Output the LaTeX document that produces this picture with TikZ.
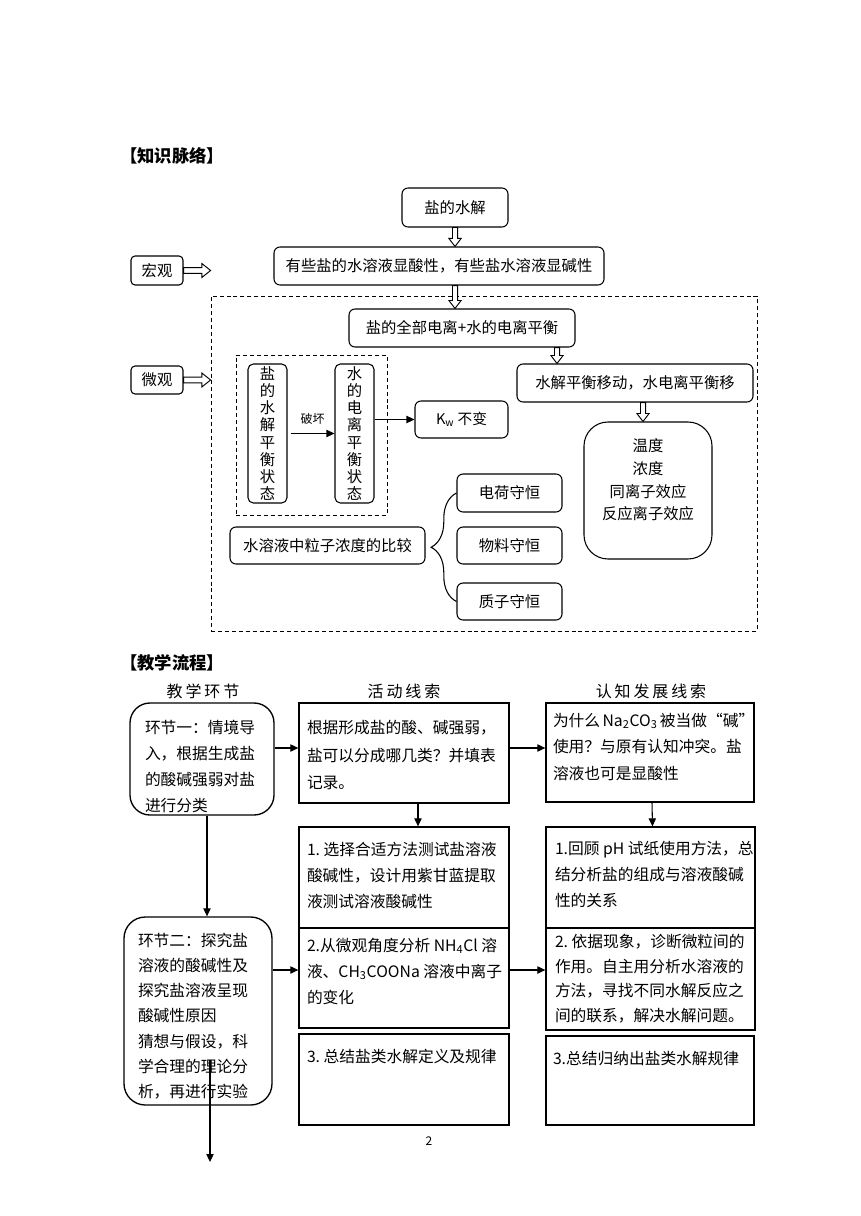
\documentclass[tikz,border=0pt]{standalone}
\usepackage{fontspec}
\setmainfont{Noto Sans CJK SC}
\usetikzlibrary{arrows.meta,calc,decorations.pathreplacing}
\newcommand{\pxu}{*0.75pt}
% width, height, top pad, left pad (px), baselineskip (pt), text
\newcommand{\fbx}[6]{\parbox[c][\dimexpr#2pt*3/4\relax][t]{\dimexpr#1pt*3/4\relax}{\vspace*{\dimexpr#3pt*3/4\relax}\fontsize{11.8}{#5}\selectfont\raggedright\leftskip=\dimexpr#4pt*3/4\relax\relax #6}}
\newcommand{\hdown}[2]{\path[hollow] let \p1=#1, \p2=#2 in (\x1-1.9pt,\y1) -- (\x1-1.9pt,\y2+6pt) -- (\x1-4.6pt,\y2+6pt) -- (\x1,\y2) -- (\x1+4.6pt,\y2+6pt) -- (\x1+1.9pt,\y2+6pt) -- (\x1+1.9pt,\y1) -- cycle;}
\newcommand{\hright}[2]{\path[hollow] let \p1=#1, \p2=#2 in (\x1,\y1+2.2pt) -- (\x2-6.5pt,\y1+2.2pt) -- (\x2-6.5pt,\y1+5.2pt) -- (\x2,\y1) -- (\x2-6.5pt,\y1-5.2pt) -- (\x2-6.5pt,\y1-2.2pt) -- (\x1,\y1-2.2pt) -- cycle;}
\begin{document}
\begin{tikzpicture}[x=0.75pt,y=-0.75pt,
  tbox/.style={draw, line width=0.8pt, rounded corners=4.5pt, inner sep=0pt, align=center, font=\fontsize{11.5}{14}\selectfont},
  vertbox/.style={tbox, rounded corners=4pt, font=\fontsize{11.5}{12.86}\selectfont},
  dbox/.style={draw, line width=0.65pt, dash pattern=on 3pt off 2.2pt, inner sep=0pt},
  flowbox/.style={draw, line width=1pt, inner sep=0pt},
  hollow/.style={draw, line width=0.7pt, fill=white},
  arr/.style={draw, line width=0.8pt, -{Triangle[length=6pt,width=5.5pt]}},
  title/.style={font=\fontsize{13}{15}\selectfont\bfseries, anchor=west, inner sep=0pt},
  colhead/.style={font=\fontsize{12}{14}\selectfont\addfontfeature{LetterSpace=18}, inner sep=0pt}
]
\useasboundingbox (0,0) rectangle (860,1216);
\fill[white] (0,0) rectangle (860,1216);

% ---------- Knowledge network ----------
\node[title] (t1) at (120,156) {【知识脉络】};

\node[tbox, minimum width=106\pxu, minimum height=39\pxu] (n1) at (455,207.5) {盐的水解};
\node[tbox, minimum width=330\pxu, minimum height=38\pxu] (n2) at (439,266) {有些盐的水溶液显酸性，有些盐水溶液显碱性};
\node[tbox, rounded corners=3pt, minimum width=52\pxu, minimum height=29\pxu] (hong) at (157,270.5) {宏观};
\node[dbox, minimum width=546\pxu, minimum height=335\pxu] (micro) at (484,463.5) {};
\node[tbox, minimum width=226\pxu, minimum height=38\pxu] (n3) at (462,328) {盐的全部电离+水的电离平衡};
\node[tbox, minimum width=236\pxu, minimum height=38\pxu] (n4) at (635,383) {水解平衡移动，水电离平衡移};
\node[tbox, rounded corners=3pt, minimum width=52\pxu, minimum height=28\pxu] (wei) at (157,380) {微观};
\node[dbox, minimum width=151\pxu, minimum height=160\pxu] (ind) at (311.5,435) {};
\node[vertbox, minimum width=39\pxu, minimum height=139\pxu] (v1) at (267.5,433.5) {盐\\的\\水\\解\\平\\衡\\状\\态};
\node[vertbox, minimum width=39\pxu, minimum height=139\pxu] (v2) at (354.5,433.5) {水\\的\\电\\离\\平\\衡\\状\\态};
\node[tbox, minimum width=93\pxu, minimum height=37\pxu, font=\fontsize{11}{13}\selectfont] (kw) at (461.5,419.5) {K\textsubscript{w} 不变};
\node[tbox, rounded corners=18pt, minimum width=128\pxu, minimum height=137\pxu, font=\fontsize{11.5}{17}\selectfont] (n5) at (648,490.5) {\begin{tabular}{@{}c@{}}温度\\浓度\\同离子效应\\反应离子效应\\[14pt]\end{tabular}};
\node[tbox, minimum width=195\pxu, minimum height=37\pxu] (n6) at (327.5,545.5) {水溶液中粒子浓度的比较};
\node[tbox, minimum width=105\pxu, minimum height=38\pxu] (q1) at (509.5,493) {电荷守恒};
\node[tbox, minimum width=105\pxu, minimum height=37\pxu] (q2) at (509.5,545.5) {物料守恒};
\node[tbox, minimum width=105\pxu, minimum height=37\pxu] (q3) at (509.5,601.5) {质子守恒};

\hdown{(n1.south)}{(n2.north)}
\hdown{(n2.south -| n1.south)}{(n3.north)}
\hdown{($(n3.south)+(95,0)$)}{(n4.north)}
\hdown{($(n4.south)+(8,0)$)}{(n5.north)}
\hright{(hong.east)}{(micro.west)}
\hright{(wei.east)}{(micro.west)}

\draw[arr] ($(v1.east)+(3,0)$) -- (v2.west) node[midway, above=3pt, font=\fontsize{9}{10}\selectfont] {破坏};
\draw[arr] (v2.east |- kw.west) -- (kw.west);
\draw[line width=0.8pt, decorate, decoration={brace, amplitude=19pt}] (q3.west) -- (q1.west);

% ---------- Teaching flow ----------
\node[title] (t2) at (120,663) {【教学流程】};
\node[colhead] (h1) at (203,691) {教学环节};
\node[colhead] (h2) at (404,691) {活动线索};
\node[colhead] (h3) at (651,691) {认知发展线索};

\node[flowbox, rounded corners=15pt] (s1) at (202,759) {\fbx{144}{112}{17.5}{15}{19.3}{环节一：情境导\\入，根据生成盐\\的酸碱强弱对盐\\进行分类}};
\node[flowbox] (a1) at (404,753) {\fbx{210}{100}{17.5}{8}{20.6}{根据形成盐的酸、碱强弱，\\盐可以分成哪几类？并填表\\记录。}};
\node[flowbox] (c1) at (650,752.5) {\fbx{208}{99}{10}{7}{19.9}{为什么~Na\textsubscript{2}CO\textsubscript{3}~被当做“碱”\\使用？与原有认知冲突。盐\\溶液也可是显酸性}};
\node[flowbox] (a2) at (404,877.5) {\fbx{210}{101}{15.5}{8}{19.5}{1.~选择合适方法测试盐溶液\\酸碱性，设计用紫甘蓝提取\\液测试溶液酸碱性}};
\node[flowbox] (c2) at (650.5,877.5) {\fbx{209}{101}{14}{9}{19.5}{1.回顾~pH~试纸使用方法，总\\结分析盐的组成与溶液酸碱\\性的关系}};
\node[flowbox, rounded corners=16pt] (s2) at (198,1011) {\fbx{148}{188}{16}{14}{18.9}{环节二：探究盐\\溶液的酸碱性及\\探究盐溶液呈现\\酸碱性原因\\猜想与假设，科\\学合理的理论分\\析，再进行实验}};
\node[flowbox] (a3) at (404,978) {\fbx{210}{100}{10}{8}{19.5}{2.从微观角度分析~NH\textsubscript{4}Cl~溶\\液、CH\textsubscript{3}COONa~溶液中离子\\的变化}};
\node[flowbox] (c3) at (650.5,979) {\fbx{209}{102}{6}{9}{18.6}{2.~依据现象，诊断微粒间的\\作用。自主用分析水溶液的\\方法，寻找不同水解反应之\\间的联系，解决水解问题。}};
\node[flowbox] (a4) at (404,1079.5) {\fbx{210}{91}{15.5}{8}{19.5}{3.~总结盐类水解定义及规律}};
\node[flowbox] (c4) at (650,1080.5) {\fbx{208}{89}{15.5}{7}{19.5}{3.总结归纳出盐类水解规律}};
\node[font=\fontsize{9}{10}\selectfont, inner sep=0pt] (pg) at (429,1141) {2};

\coordinate (r1) at ($(a1.west)+(0,-5)$);
\coordinate (r2) at ($(a3.west)+(0,-8)$);
\coordinate (d1) at ($(s1.south)+(5,0)$);
\coordinate (e1) at (210,1060);
\coordinate (e2) at (210,1162);
\draw[arr] (s1.east |- r1) -- (r1);
\draw[arr] (a1.east |- r1) -- (c1.west |- r1);
\draw[arr] ($(a1.south)+(14,0)$) -- ($(a2.north)+(14,0)$);
\draw[arr] ($(c1.south)+(2,0)$) -- ($(c2.north)+(2,0)$);
\draw[arr] (d1) -- (d1 |- s2.north);
\draw[arr] (s2.east |- r2) -- (r2);
\draw[arr] (a3.east |- r2) -- (c3.west |- r2);
\draw[arr] (e1) -- (e2);
\end{tikzpicture}
\end{document}
